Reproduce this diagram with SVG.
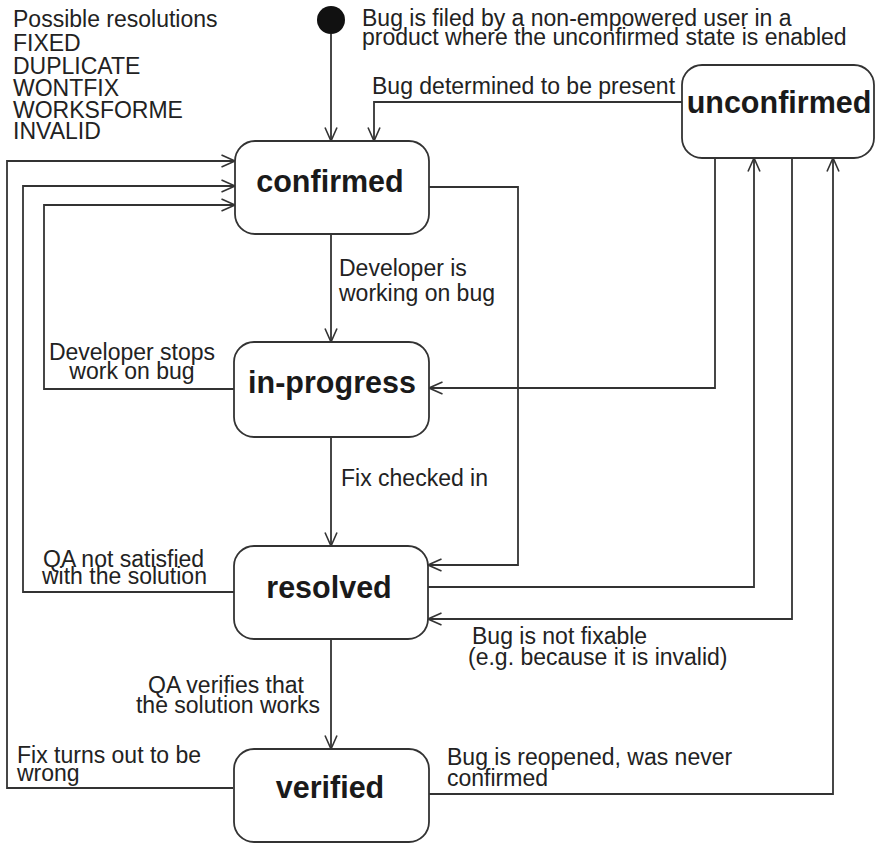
<svg xmlns="http://www.w3.org/2000/svg" width="876" height="845" viewBox="0 0 876 845">
<style>
.node rect{fill:#fff;stroke:#333;stroke-width:1.8}
.title{font-family:"Liberation Sans",Arial,sans-serif;font-weight:bold;font-size:30.5px;fill:#1a1a1a;text-anchor:middle}
.lbl{font-family:"Liberation Sans",Arial,sans-serif;font-size:23px;fill:#222}
.mid{text-anchor:middle}
#connectors path{fill:none;stroke:#333;stroke-width:1.8}
</style>
<defs>
<marker id="arr" markerUnits="userSpaceOnUse" markerWidth="16" markerHeight="14" refX="14.5" refY="7" orient="auto">
<path d="M1,1 L14.5,7 L1,13" fill="none" stroke="#333" stroke-width="1.6"/>
</marker>
</defs>
<rect width="876" height="845" fill="#fff"/>

<g id="notes">
<text class="lbl" x="13" y="27">Possible resolutions</text>
<text class="lbl" x="13" y="51">FIXED</text>
<text class="lbl" x="13" y="74">DUPLICATE</text>
<text class="lbl" x="13" y="96">WONTFIX</text>
<text class="lbl" x="13" y="118">WORKSFORME</text>
<text class="lbl" x="13" y="139">INVALID</text>
</g>

<g id="connectors">
<path d="M331,34 V141" marker-end="url(#arr)"/>
<path d="M682,102 H374 V141" marker-end="url(#arr)"/>
<path d="M331,234 V342" marker-end="url(#arr)"/>
<path d="M331,437 V546" marker-end="url(#arr)"/>
<path d="M331,639 V749" marker-end="url(#arr)"/>
<path d="M234,389 H44 V205 H235" marker-end="url(#arr)"/>
<path d="M234,592 H23 V186 H235" marker-end="url(#arr)"/>
<path d="M233,788 H7 V161 H235" marker-end="url(#arr)"/>
<path d="M429,187 H518 V565 H428" marker-end="url(#arr)"/>
<path d="M715,158 V388 H429" marker-end="url(#arr)"/>
<path d="M428,587 H754 V158" marker-end="url(#arr)"/>
<path d="M792,158 V619 H428" marker-end="url(#arr)"/>
<path d="M429,794 H833 V158" marker-end="url(#arr)"/>
</g>

<g id="labels">
<text class="lbl" x="362" y="26">Bug is filed by a non-empowered user in a</text>
<text class="lbl" x="362" y="45">product where the unconfirmed state is enabled</text>
<text class="lbl" x="372" y="94">Bug determined to be present</text>
<text class="lbl" x="339" y="276">Developer is</text>
<text class="lbl" x="339" y="301">working on bug</text>
<text class="lbl mid" x="132" y="360">Developer stops</text>
<text class="lbl mid" x="132" y="379">work on bug</text>
<text class="lbl" x="341" y="486">Fix checked in</text>
<text class="lbl" x="43" y="567">QA not satisfied</text>
<text class="lbl" x="42" y="584">with the solution</text>
<text class="lbl" x="472" y="644">Bug is not fixable</text>
<text class="lbl" x="468" y="665">(e.g. because it is invalid)</text>
<text class="lbl mid" x="226" y="693">QA verifies that</text>
<text class="lbl mid" x="228" y="713">the solution works</text>
<text class="lbl" x="17" y="763">Fix turns out to be</text>
<text class="lbl" x="17" y="781">wrong</text>
<text class="lbl" x="447" y="765">Bug is reopened, was never</text>
<text class="lbl" x="447" y="786">confirmed</text>
</g>

<g id="start"><circle cx="331" cy="20" r="14" fill="#111"/></g>
<g id="unconfirmed" class="node"><rect x="682" y="65" width="192" height="93" rx="20"/><text class="title" x="779" y="113">unconfirmed</text></g>
<g id="confirmed" class="node"><rect x="235" y="141" width="194" height="93" rx="20"/><text class="title" x="330" y="192">confirmed</text></g>
<g id="in-progress" class="node"><rect x="234" y="342" width="195" height="95" rx="20"/><text class="title" x="332" y="393">in-progress</text></g>
<g id="resolved" class="node"><rect x="234" y="546" width="194" height="93" rx="20"/><text class="title" x="329" y="598">resolved</text></g>
<g id="verified" class="node"><rect x="234" y="749" width="195" height="93" rx="20"/><text class="title" x="330" y="798">verified</text></g>
</svg>
